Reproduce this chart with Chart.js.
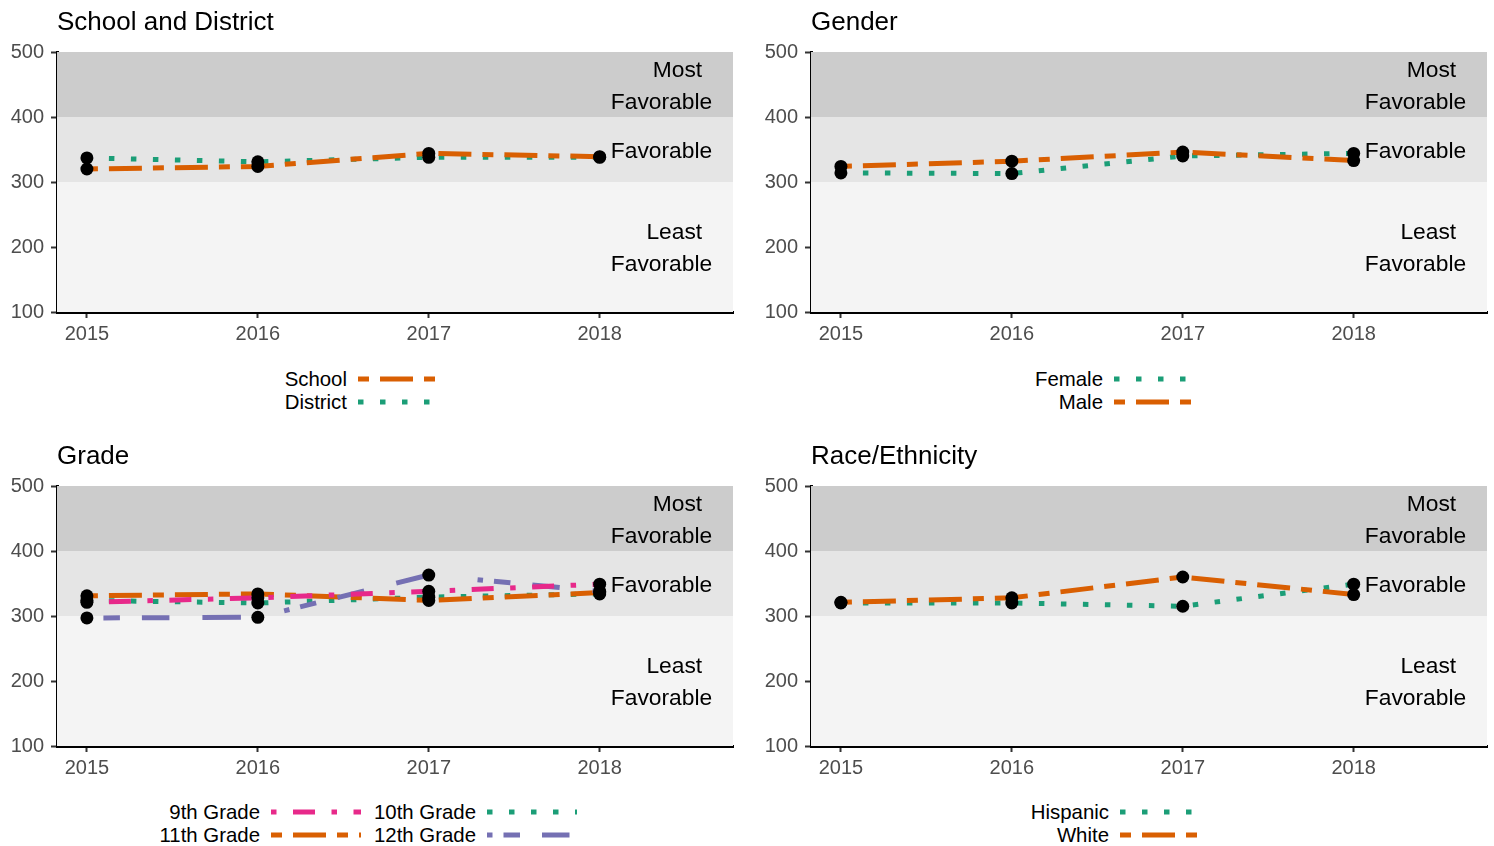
<!DOCTYPE html>
<html><head><meta charset="utf-8">
<script src="https://cdn.jsdelivr.net/npm/chart.js@4"></script>
<style>
html,body{margin:0;padding:0;background:#fff;width:1494px;height:846px;overflow:hidden;font-family:"Liberation Sans",Arial,Helvetica,sans-serif;}
.panel{position:absolute;width:747px;height:350px;}
.lab{position:absolute;font-size:20.4px;line-height:23px;height:23px;color:#000;white-space:nowrap;text-align:right;}
.key{position:absolute;}
</style></head><body>
<canvas id="c1" class="panel" width="747" height="350" style="left:0;top:0"></canvas>
<canvas id="c2" class="panel" width="747" height="350" style="left:754px;top:0"></canvas>
<canvas id="c3" class="panel" width="747" height="350" style="left:0;top:434px"></canvas>
<canvas id="c4" class="panel" width="747" height="350" style="left:754px;top:434px"></canvas>
<div id="legends"></div>
<script>
// ---- data ----
const years = [2015, 2016, 2017, 2018];
const yTicks = [100, 200, 300, 400, 500];
const bandEdges = [100, 300, 400, 500];
const bandLabels = [["Least", "Favorable"], ["Favorable"], ["Most", "Favorable"]];

const schoolScores   = [320, 324, 344, 339];
const districtScores = [337, 331, 338, 338];

const femaleScores = [314, 313, 340, 344];
const maleScores   = [324, 332, 346, 333];

const grade9Scores  = [321, 328, 338, 349];
const grade10Scores = [324, 320, 329, 334];
const grade11Scores = [331, 334, 324, 336];
const grade12Scores = [297, 298, 363, 338];

const hispanicScores = [320, 320, 315, 349];
const whiteScores    = [321, 328, 360, 333];

const panelTitles = ["School and District", "Gender", "Grade", "Race/Ethnicity"];

// ---- styles ----
const FONT = '"Liberation Sans", Arial, Helvetica, sans-serif';
const ORANGE = '#D95F02', GREEN = '#1B9E77', PINK = '#E7298A', PURPLE = '#7570B3';
const DOTTED = [5.5, 16.5], TWODASH = [11, 11, 33, 11], DOTDASH = [5.5, 16.5, 22, 16.5];
const RAMP = [5.5, 11, 16.5, 22, 27.5, 33, 38.5, 44];
const bandColors = ['#f4f4f4', '#e5e5e5', '#cccccc'];
const LW = 5;
const X_MIN = 2014.825, X_MAX = 2018.78, BAND_LABEL_X = 2018.065;

const bandPlugin = {
  id: 'bands',
  beforeDatasetsDraw(chart) {
    const {ctx, chartArea: a, scales: {x, y}} = chart;
    ctx.save();
    for (let i = 0; i < bandEdges.length - 1; i++) {
      const t = y.getPixelForValue(bandEdges[i + 1]), b = y.getPixelForValue(bandEdges[i]);
      ctx.fillStyle = bandColors[i];
      ctx.fillRect(a.left, t, a.right - a.left, b - t);
    }
    ctx.font = '22.8px ' + FONT;
    ctx.fillStyle = '#000';
    ctx.textBaseline = 'middle';
    const x0 = x.getPixelForValue(BAND_LABEL_X);
    const wFav = ctx.measureText('Favorable').width;
    for (let i = 0; i < bandLabels.length; i++) {
      const lines = bandLabels[i];
      const yc = y.getPixelForValue((bandEdges[i] + bandEdges[i + 1]) / 2) + 2;
      const lh = 32;
      lines.forEach((ln, k) => {
        const yy = yc + (k - (lines.length - 1) / 2) * lh;
        ctx.textAlign = 'right';
        const inset = ln === 'Favorable' ? 0 : 10;
        ctx.fillText(ln, x0 + wFav - inset, yy);
      });
    }
    ctx.restore();
  },
  afterDraw(chart) {
    const {ctx, chartArea: a} = chart;
    ctx.save();
    ctx.font = '26px ' + FONT;
    ctx.fillStyle = '#000';
    ctx.textBaseline = 'middle';
    ctx.textAlign = 'left';
    ctx.fillText(chart.options.plugins.panelTitle.text, a.left, 23);
    ctx.restore();
  }
};

function axisCommon(extra) {
  return Object.assign({
    ticks: {color: '#4d4d4d', font: {size: 20, family: FONT}, autoSkip: false, maxRotation: 0,
            callback: v => String(v)},
    grid: {display: true, drawOnChartArea: false, drawTicks: true, tickLength: 6, tickColor: '#333', tickWidth: 2},
    border: {display: true, color: '#000', width: 3}
  }, extra);
}

function makePanel(id, title, series) {
  const lineSets = series.map(s => ({
    data: years.map((yr, i) => ({x: yr, y: s.values[i]})),
    borderColor: s.color, borderWidth: LW, borderDash: s.dash, borderCapStyle: 'butt',
    borderJoinStyle: 'round', pointRadius: 0, tension: 0, fill: false, order: 1
  }));
  const pointSets = series.map(s => ({
    data: years.map((yr, i) => ({x: yr, y: s.values[i]})),
    showLine: false, pointRadius: 6.5, pointBackgroundColor: '#000', pointBorderWidth: 0, order: 0
  }));
  const xs = axisCommon({type: 'linear', min: X_MIN, max: X_MAX,
    afterBuildTicks: sc => { sc.ticks = years.map(v => ({value: v})); },
    afterFit: sc => { sc.height = 38; }});
  xs.ticks = Object.assign({}, xs.ticks, {padding: 4});
  const ys = axisCommon({type: 'linear', min: 100, max: 500,
    afterBuildTicks: sc => { sc.ticks = yTicks.map(v => ({value: v})); },
    afterFit: sc => { sc.width = 57; }});
  ys.ticks = Object.assign({}, ys.ticks, {padding: 7});
  new Chart(document.getElementById(id), {
    type: 'line',
    data: {datasets: lineSets.concat(pointSets)},
    options: {
      responsive: false, animation: false,
      layout: {padding: {top: 52, right: 14, bottom: 0, left: 0}},
      plugins: {legend: {display: false}, tooltip: {enabled: false}, panelTitle: {text: title}},
      scales: {x: xs, y: ys}
    },
    plugins: [bandPlugin]
  });
}

makePanel('c1', panelTitles[0], [
  {values: schoolScores, color: ORANGE, dash: TWODASH},
  {values: districtScores, color: GREEN, dash: DOTTED}
]);
makePanel('c2', panelTitles[1], [
  {values: maleScores, color: ORANGE, dash: TWODASH},
  {values: femaleScores, color: GREEN, dash: DOTTED}
]);
makePanel('c3', panelTitles[2], [
  {values: grade9Scores, color: PINK, dash: DOTDASH},
  {values: grade12Scores, color: PURPLE, dash: RAMP},
  {values: grade11Scores, color: ORANGE, dash: TWODASH},
  {values: grade10Scores, color: GREEN, dash: DOTTED}
]);
makePanel('c4', panelTitles[3], [
  {values: whiteScores, color: ORANGE, dash: TWODASH},
  {values: hispanicScores, color: GREEN, dash: DOTTED}
]);

// ---- legends (label right edge x, row centre y) ----
const legendItems = [
  {label: 'School',     color: ORANGE, dash: TWODASH, right: 347,  y: 380, w: 82},
  {label: 'District',   color: GREEN,  dash: DOTTED,  right: 347,  y: 403, w: 82},
  {label: 'Female',     color: GREEN,  dash: DOTTED,  right: 1103, y: 380, w: 82},
  {label: 'Male',       color: ORANGE, dash: TWODASH, right: 1103, y: 403, w: 82},
  {label: '9th Grade',  color: PINK,   dash: DOTDASH, right: 260,  y: 813, w: 90},
  {label: '11th Grade', color: ORANGE, dash: TWODASH, right: 260,  y: 836, w: 90},
  {label: '10th Grade', color: GREEN,  dash: DOTTED,  right: 476,  y: 813, w: 90},
  {label: '12th Grade', color: PURPLE, dash: RAMP,    right: 476,  y: 836, w: 90},
  {label: 'Hispanic',   color: GREEN,  dash: DOTTED,  right: 1109, y: 813, w: 82},
  {label: 'White',      color: ORANGE, dash: TWODASH, right: 1109, y: 836, w: 82}
];
const lg = document.getElementById('legends');
legendItems.forEach(it => {
  const l = document.createElement('div');
  l.className = 'lab';
  l.textContent = it.label;
  l.style.right = (1494 - it.right) + 'px';
  l.style.top = (it.y - 12) + 'px';
  lg.appendChild(l);
  const ns = 'http://www.w3.org/2000/svg';
  const svg = document.createElementNS(ns, 'svg');
  svg.setAttribute('width', it.w); svg.setAttribute('height', 10);
  svg.setAttribute('class', 'key');
  svg.style.left = (it.right + 11) + 'px';
  svg.style.top = (it.y - 6) + 'px';
  const ln = document.createElementNS(ns, 'line');
  ln.setAttribute('x1', 0); ln.setAttribute('x2', it.w);
  ln.setAttribute('y1', 5); ln.setAttribute('y2', 5);
  ln.setAttribute('stroke', it.color); ln.setAttribute('stroke-width', LW);
  ln.setAttribute('stroke-dasharray', it.dash.join(' '));
  ln.setAttribute('stroke-linecap', 'butt');
  svg.appendChild(ln);
  lg.appendChild(svg);
});
</script>
</body></html>
